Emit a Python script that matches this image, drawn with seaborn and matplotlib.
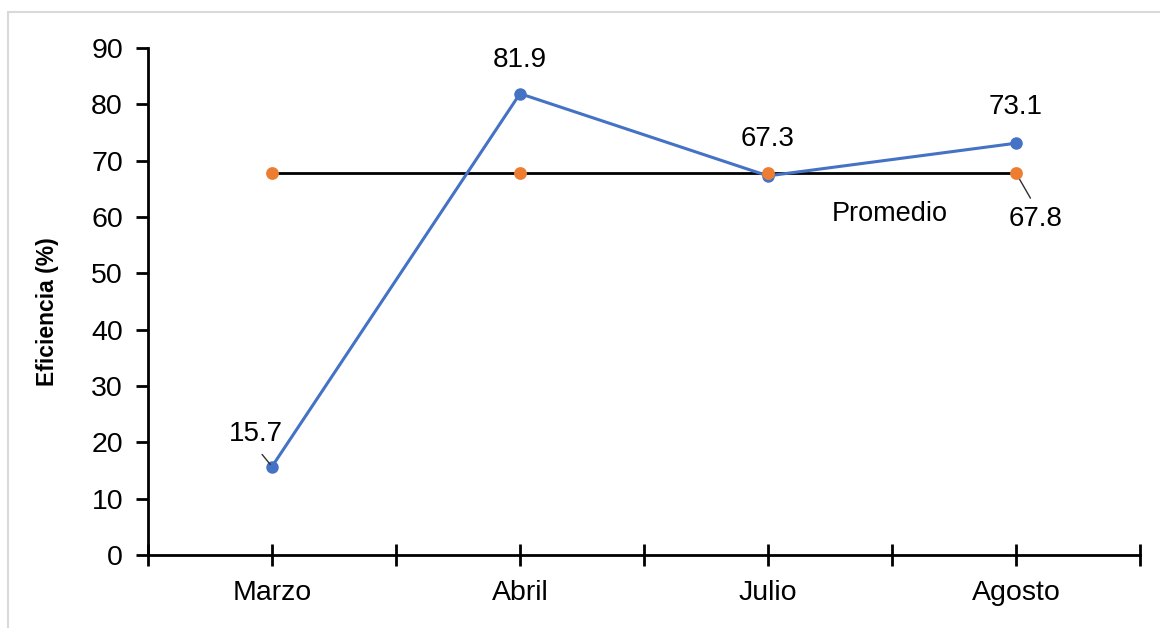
"""
Eficiencia mensual vs promedio - line chart recreated with seaborn.
"""

import matplotlib
matplotlib.use("Agg")

import numpy as np
import pandas as pd
import matplotlib.pyplot as plt
import seaborn as sns
from matplotlib.lines import Line2D

MONTHS = ["Marzo", "Abril", "Julio", "Agosto"]
EFFICIENCY = [15.7, 81.9, 67.3, 73.1]
AVERAGE = [67.8, 67.8, 67.8, 67.8]
Y_TICKS = [0, 10, 20, 30, 40, 50, 60, 70, 80, 90]

BLUE = "#4472C4"
ORANGE = "#ED7D31"


def plot_efficiency() -> None:
    sns.set_style("white")
    plt.rcParams["font.family"] = ["Liberation Sans", "DejaVu Sans"]
    plt.rcParams["text.color"] = "black"
    plt.rcParams["xtick.color"] = "black"
    plt.rcParams["ytick.color"] = "black"
    plt.rcParams["axes.labelcolor"] = "black"

    df = pd.DataFrame({
        "Mes": MONTHS,
        "pos": np.arange(len(MONTHS)),
        "Eficiencia": EFFICIENCY,
        "Promedio": AVERAGE,
    })

    fig = plt.figure(figsize=(11.6, 6.28), dpi=100)
    ax = fig.add_axes([148 / 1160, 1 - 555 / 628, (1140 - 148) / 1160, (555 - 48) / 628])

    # light frame (top and left edges visible only)
    fy = 1 - 12 / 628
    fx = 8 / 1160
    fig.add_artist(Line2D([fx, 1], [fy, fy], transform=fig.transFigure,
                          color="#d9d9d9", linewidth=1.5))
    fig.add_artist(Line2D([fx, fx], [0, fy], transform=fig.transFigure,
                          color="#d9d9d9", linewidth=1.5))

    # average line: black line with orange markers
    sns.lineplot(data=df, x="pos", y="Promedio", ax=ax, color="black", linewidth=2, zorder=2)
    sns.lineplot(data=df, x="pos", y="Eficiencia", ax=ax, color=BLUE, linewidth=2.2,
                 marker="o", markersize=9, markeredgewidth=0, zorder=3)
    ax.scatter(df["pos"], df["Promedio"], color=ORANGE, s=85, zorder=4, linewidths=0)

    ax.set_xlim(-0.5, 3.5)
    ax.set_ylim(0, 90)
    ax.set_yticks(Y_TICKS)
    ax.set_xticks(df["pos"])
    ax.set_xticklabels(MONTHS)
    ax.set_xticks(np.arange(-0.5, 3.6, 1.0), minor=True)

    for side in ["top", "right"]:
        ax.spines[side].set_visible(False)
    for side in ["left", "bottom"]:
        ax.spines[side].set_linewidth(2)
        ax.spines[side].set_color("black")

    ax.tick_params(axis="y", which="major", direction="out", length=9, width=2,
                   labelsize=20.5, pad=9, left=True)
    ax.tick_params(axis="x", which="both", direction="inout", length=16, width=2,
                   labelsize=20.5, pad=10, bottom=True)
    ax.set_xlabel("")
    ax.set_ylabel("Eficiencia (%)", fontsize=16.5, fontweight="bold")
    ax.yaxis.set_label_coords(-0.09, 0.48)

    # data labels
    ax.annotate(f"{EFFICIENCY[0]}", xy=(0, EFFICIENCY[0]), xytext=(-0.065, 21.5),
                ha="center", va="center", fontsize=20,
                arrowprops=dict(arrowstyle="-", color="#303030", lw=1,
                                relpos=(0.5, 0), shrinkA=4, shrinkB=2))
    ax.text(1, 87.9, f"{EFFICIENCY[1]}", ha="center", va="center", fontsize=20)
    ax.text(2, 73.9, f"{EFFICIENCY[2]}", ha="center", va="center", fontsize=20)
    ax.text(3, 79.5, f"{EFFICIENCY[3]}", ha="center", va="center", fontsize=20)
    ax.annotate(f"{AVERAGE[3]}", xy=(3, AVERAGE[3]), xytext=(3.077, 59.6),
                ha="center", va="center", fontsize=20,
                arrowprops=dict(arrowstyle="-", color="#303030", lw=1,
                                relpos=(0.5, 1), shrinkA=4, shrinkB=2))
    ax.text(2.49, 60.5, "Promedio", ha="center", va="center", fontsize=19.5)

    fig.savefig("out.png", dpi=100)


if __name__ == "__main__":
    plot_efficiency()
